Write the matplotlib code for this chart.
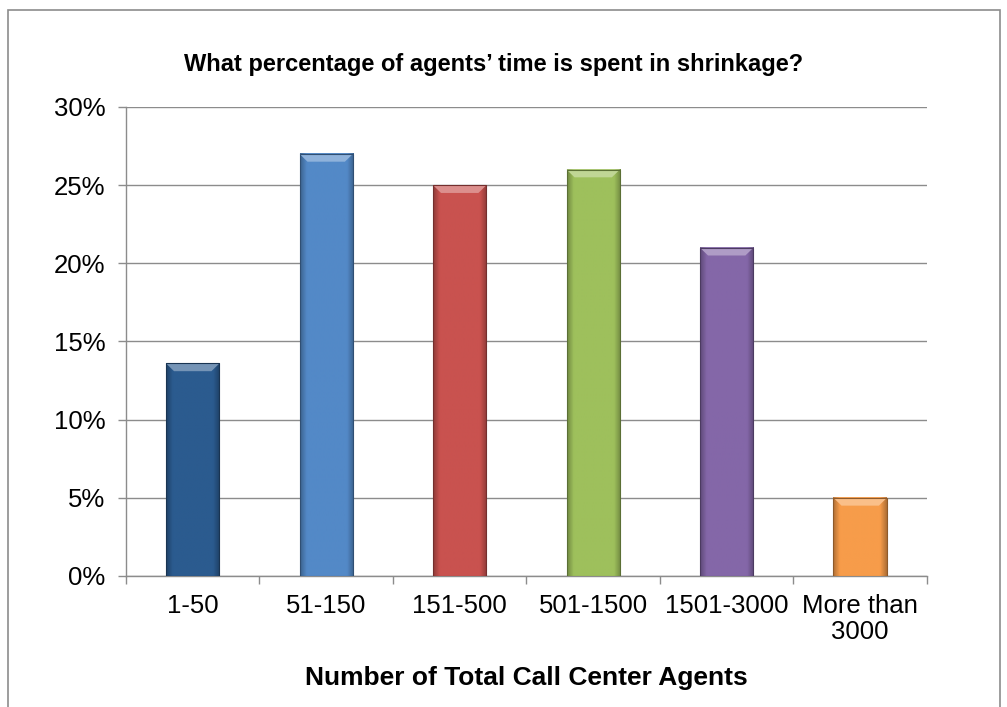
import numpy as np
import matplotlib.pyplot as plt
import matplotlib.colors as mcolors
from matplotlib.patches import Rectangle
from matplotlib.ticker import PercentFormatter, FixedLocator

plt.rcParams['font.family'] = ['Liberation Sans', 'DejaVu Sans']

# data
categories = ['1-50', '51-150', '151-500', '501-1500', '1501-3000', 'More than\n3000']
values = [13.6, 27.0, 25.0, 26.0, 21.0, 5.0]
colors = ['#2B5B8F', '#5389C7', '#C9524F', '#9EC05C', '#8467A8', '#F79C4A']

fig = plt.figure(figsize=(10.07, 7.07), dpi=100)
ax = fig.add_axes([0.1251, 0.1853, 0.7954, 0.6634])

x = np.arange(len(categories))
bars = ax.bar(x, values, width=0.4, color=colors, zorder=3,
              edgecolor='none')

# simple bevel look: shaded sides and lighter top band
for b, c in zip(bars, colors):
    x0, w, h = b.get_x(), b.get_width(), b.get_height()
    rgb = np.array(mcolors.to_rgb(c))
    dark = rgb * 0.72
    light = np.clip(rgb + (1 - rgb) * 0.35, 0, 1)
    grad = np.linspace(0, 1, 60)
    prof = np.minimum(grad, 1 - grad)
    prof = np.clip(prof / 0.12, 0, 1)
    row = dark[None, :] + (rgb - dark)[None, :] * prof[:, None]
    ax.imshow(row[None, :, :], extent=(x0, x0 + w, 0, h), aspect='auto',
              zorder=3.1, interpolation='bilinear')
    band = 0.5
    ax.add_patch(plt.Polygon([(x0, h), (x0 + w, h), (x0 + w - 0.06, h - band),
                              (x0 + 0.06, h - band)], closed=True,
                             facecolor=light, edgecolor='none', zorder=3.2))
    ax.add_patch(Rectangle((x0, 0), w, h, facecolor='none',
                           edgecolor=dark * 0.8, linewidth=0.8, zorder=3.3))

ax.set_xlim(-0.5, len(categories) - 0.5)
ax.set_ylim(0, 30)
ax.set_yticks(np.arange(0, 31, 5))
ax.yaxis.set_major_formatter(PercentFormatter(decimals=0))
ax.grid(axis='y', color='#8C8C8C', linewidth=1, zorder=0)
ax.set_axisbelow(True)

ax.set_xticks(x)
ax.set_xticklabels(categories, fontsize=18.5, linespacing=1.12)
ax.xaxis.set_minor_locator(FixedLocator(np.arange(-0.5, len(categories), 1)))
ax.tick_params(axis='x', which='major', length=0, pad=13)
ax.tick_params(axis='x', which='minor', length=6, color='#8C8C8C', width=1)
ax.tick_params(axis='y', length=6, color='#8C8C8C', width=1, pad=9,
               labelsize=18.5)

for s in ['top', 'right']:
    ax.spines[s].set_visible(False)
for s in ['left', 'bottom']:
    ax.spines[s].set_color('#8C8C8C')
    ax.spines[s].set_linewidth(1)

fig.text(0.4906, 0.8996, "What percentage of agents\u2019 time is spent in shrinkage?",
         ha='center', va='baseline', fontsize=17, fontweight='bold')
fig.text(0.523, 0.0311, 'Number of Total Call Center Agents',
         ha='center', va='baseline', fontsize=19, fontweight='bold')

# outer chart frame
fig.patches.append(Rectangle((8 / 1007, -0.1), 992 / 1007, 1.1 - 10 / 707,
                             transform=fig.transFigure, fill=False,
                             edgecolor='#8C8C8C', linewidth=1.2))

fig.savefig('out.png', dpi=100)
